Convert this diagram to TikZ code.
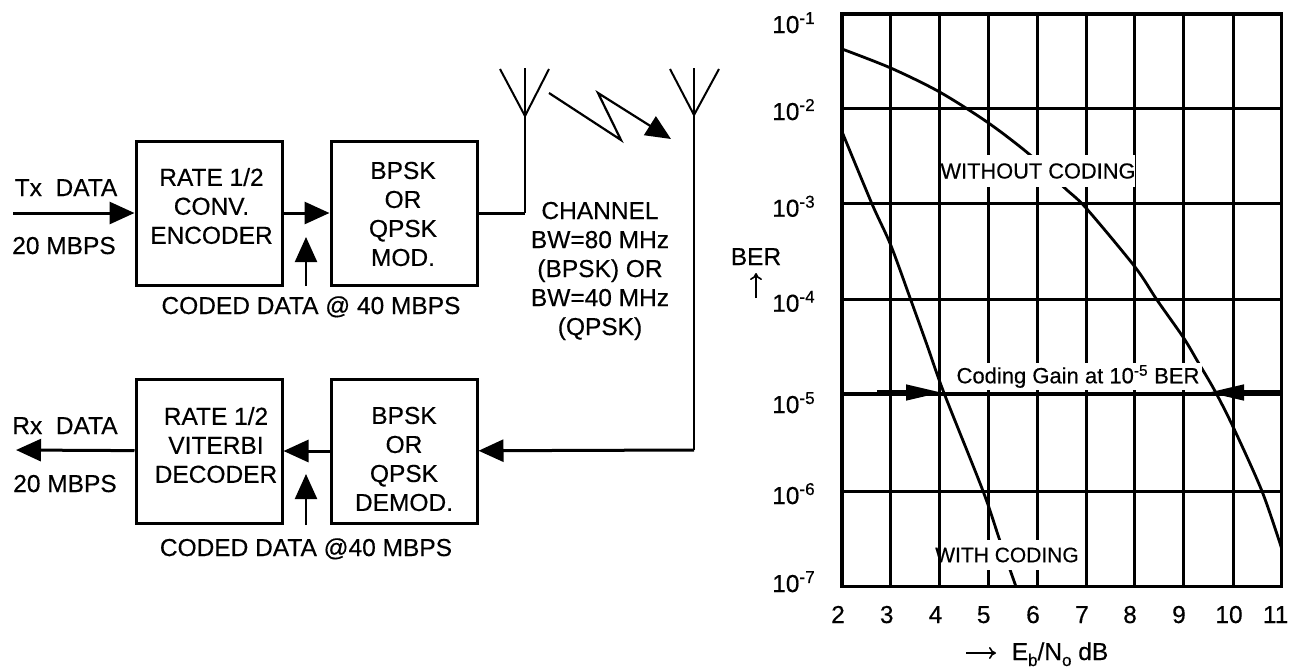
\documentclass[tikz,border=0pt]{standalone}
\usepackage{fontspec}
\setmainfont{Liberation Sans}[FakeBold=0.4]
\usepackage{xcolor}
\usetikzlibrary{arrows.meta}

\tikzset{
  blockbox/.style={rectangle, draw, line width=3pt, minimum width=146pt, minimum height=144pt},
  blocktext/.style={align=center, font=\fontsize{24.5}{29}\selectfont, inner sep=0pt},
  plainlabel/.style={anchor=base, font=\fontsize{24.5}{29}\selectfont, inner sep=0pt},
  ticklabel/.style={anchor=base west, font=\fontsize{24.5}{29}\selectfont, inner sep=0pt},
  xticklabel/.style={anchor=base, font=\fontsize{24.5}{29}\selectfont, inner sep=0pt},
  curvelabel/.style={fill=white, inner sep=0pt, font=\fontsize{21.8}{26}\selectfont},
  wire/.style={line width=3pt},
  antenna/.style={line width=2pt},
  flow/.style={line width=3pt, -{Triangle[length=25pt, width=22pt]}},
  feed/.style={line width=2.2pt, -{Triangle[length=25pt, width=22pt]}},
  gridline/.style={line width=3pt},
  curveline/.style={line width=2.8pt},
  gainarrow/.style={line width=4.5pt, -{Triangle[length=36pt, width=15pt]}},
  thinarrow/.style={line width=1.6pt, -{To[length=7pt, width=12pt]}}
}

\begin{document}
\begin{tikzpicture}[x=1pt, y=-1pt, node distance=195pt]
\useasboundingbox (0,0) rectangle (1298,670);

% transmit and receive chains
\node (encoder) [blockbox, label={[blocktext, xshift=2.5pt, yshift=7pt]center:RATE 1/2\\CONV.\\ENCODER}] at (209,213) {};
\node (mod) [blockbox, right of=encoder, label={[blocktext, xshift=-1pt, yshift=-1pt]center:BPSK\\OR\\QPSK\\MOD.}] {};
\node (decoder) [blockbox, below of=encoder, yshift=-43pt, label={[blocktext, xshift=7pt, yshift=6pt]center:RATE 1/2\\VITERBI\\DECODER}] {};
\node (demod) [blockbox, right of=decoder, label={[blocktext, yshift=-8pt]center:BPSK\\OR\\QPSK\\DEMOD.}] {};

\node (txdata) [plainlabel] at (66,196) {Tx\ \ DATA};
\node (txrate) [plainlabel] at (64,254) {20 MBPS};
\node (rxdata) [plainlabel] at (65,434) {Rx\ \ DATA};
\node (rxrate) [plainlabel] at (65,492) {20 MBPS};
\node (txcoded) [plainlabel] at (311,314) {CODED DATA @ 40 MBPS};
\node (rxcoded) [plainlabel] at (306,556) {CODED DATA @40 MBPS};
\node (channel) [blocktext] at (600,271) {CHANNEL\\BW=80 MHz\\(BPSK) OR\\BW=40 MHz\\(QPSK)};

\coordinate (txin) at (13,213);
\coordinate (rxout) at (16,450);
\coordinate (txfoot) at (525,213);
\coordinate (txbase) at (525,116);
\coordinate (txstem) at (525,68);
\coordinate (txleft) at (500,69);
\coordinate (txright) at (549,69);
\coordinate (rxfoot) at (694,450);
\coordinate (rxbase) at (694,115);
\coordinate (rxstem) at (694,68);
\coordinate (rxleft) at (670,69);
\coordinate (rxright) at (719,69);
\coordinate (txcodedfoot) at (306,286);
\coordinate (txcodedtip) at (306,237);
\coordinate (rxcodedfoot) at (306,525);
\coordinate (rxcodedtip) at (306,474);
\coordinate (linkstart) at (549,93);
\coordinate (linkone) at (621,140);
\coordinate (linktwo) at (598,93);
\coordinate (linkend) at (671,139);

\draw [flow] (txin) -- (encoder);
\draw [flow] (encoder) -- (mod);
\draw [wire] (mod) -- (txfoot);
\draw [antenna] (txfoot) -- (txstem);
\draw [antenna] (txleft) -- (txbase) -- (txright);
\draw [antenna] (rxleft) -- (rxbase) -- (rxright);
\draw [antenna] (rxstem) -- (rxfoot);
\draw [flow] (rxfoot) -- (demod);
\draw [flow] (demod) -- (decoder);
\draw [flow] (decoder) -- (rxout);
\draw [feed] (txcodedfoot) -- (txcodedtip);
\draw [feed] (rxcodedfoot) -- (rxcodedtip);
\draw [feed] (linkstart) -- (linkone) -- (linktwo) -- (linkend);

% BER chart
\draw [gridline] (890.7,14) -- (890.7,586.7);
\draw [gridline] (988.5,14) -- (988.5,586.7);
\draw [gridline] (1037.4,14) -- (1037.4,586.7);
\draw [gridline] (1086,14) -- (1086,586.7);
\draw [gridline] (1134.8,14) -- (1134.8,586.7);
\draw [gridline] (1183.7,14) -- (1183.7,586.7);
\draw [gridline] (1233,14) -- (1233,586.7);
\draw [gridline] (842,108.7) -- (1281.5,108.7);
\draw [gridline] (842,203.7) -- (1281.5,203.7);
\draw [gridline] (842,299.7) -- (1281.5,299.7);
\draw [gridline] (842,491) -- (1281.5,491);

\draw [curveline] plot [smooth, tension=0.5] coordinates {(842,49) (890.7,68) (939.6,92) (988.5,123) (1031,155.7) (1064.4,187.7) (1086,208) (1134.8,266.7) (1157,300) (1183.7,338) (1197.8,361.7) (1214.4,390) (1233,426.7) (1261.9,491) (1281.5,548)};
\draw [curveline] plot [smooth, tension=0.5] coordinates {(842,131.7) (871.9,203.7) (890.7,245) (910.7,299.7) (927,345) (944,393) (983,491) (1000,541) (1016,586.7)};

\node (withoutcoding) [curvelabel, minimum width=194pt, minimum height=32pt] at (1038,171) {WITHOUT CODING};
\node (gainlabel) [curvelabel, font=\fontsize{22}{26}\selectfont, minimum width=248pt, minimum height=27pt] at (1078,376.5) {Coding Gain at 10\textsuperscript{-5} BER};
\node (withcoding) [curvelabel, font=\fontsize{21}{26}\selectfont, minimum height=30pt] at (1007,555) {WITH CODING};

\draw [gridline] (939.6,14) -- (939.6,586.7);
\draw [gridline, line width=4pt] (842,393.5) -- (1281.5,393.5);
\draw [gridline, line width=3.5pt] (842,14) rectangle (1281.5,586.7);

\coordinate (gainleft) at (877,392.5);
\coordinate (gainlefttip) at (942,392.5);
\coordinate (gainright) at (1281,392.5);
\coordinate (gainrighttip) at (1208,392.5);
\draw [gainarrow] (gainleft) -- (gainlefttip);
\draw [gainarrow] (gainright) -- (gainrighttip);

\node (tickone) [ticklabel] at (772,33) {10\textsuperscript{-1}};
\node (ticktwo) [ticklabel] at (772,120) {10\textsuperscript{-2}};
\node (tickthree) [ticklabel] at (772,216.7) {10\textsuperscript{-3}};
\node (tickfour) [ticklabel] at (772,311.7) {10\textsuperscript{-4}};
\node (tickfive) [ticklabel] at (772,413) {10\textsuperscript{-5}};
\node (ticksix) [ticklabel] at (772,504) {10\textsuperscript{-6}};
\node (tickseven) [ticklabel] at (772,592) {10\textsuperscript{-7}};

\node (xtwo) [xticklabel] at (838,623) {2};
\node (xthree) [xticklabel] at (886.7,623) {3};
\node (xfour) [xticklabel] at (935.5,623) {4};
\node (xfive) [xticklabel] at (983.7,623) {5};
\node (xsix) [xticklabel] at (1033,623) {6};
\node (xseven) [xticklabel] at (1082,623) {7};
\node (xeight) [xticklabel] at (1130,623) {8};
\node (xnine) [xticklabel] at (1179,623) {9};
\node (xten) [xticklabel] at (1229,623) {10};
\node (xeleven) [xticklabel] at (1275.6,623) {11};

\node (ber) [plainlabel] at (756,265) {BER};
\coordinate (berfoot) at (756,298);
\coordinate (bertip) at (756,273);
\draw [thinarrow] (berfoot) -- (bertip);

\coordinate (xnamefoot) at (966,653);
\coordinate (xnametip) at (996,653);
\draw [thinarrow] (xnamefoot) -- (xnametip);
\node (xname) [plainlabel] at (1060,660) {E\raisebox{-6pt}{\fontsize{17}{20}\selectfont b}/N\raisebox{-6pt}{\fontsize{17}{20}\selectfont o} dB};
\end{tikzpicture}
\end{document}
